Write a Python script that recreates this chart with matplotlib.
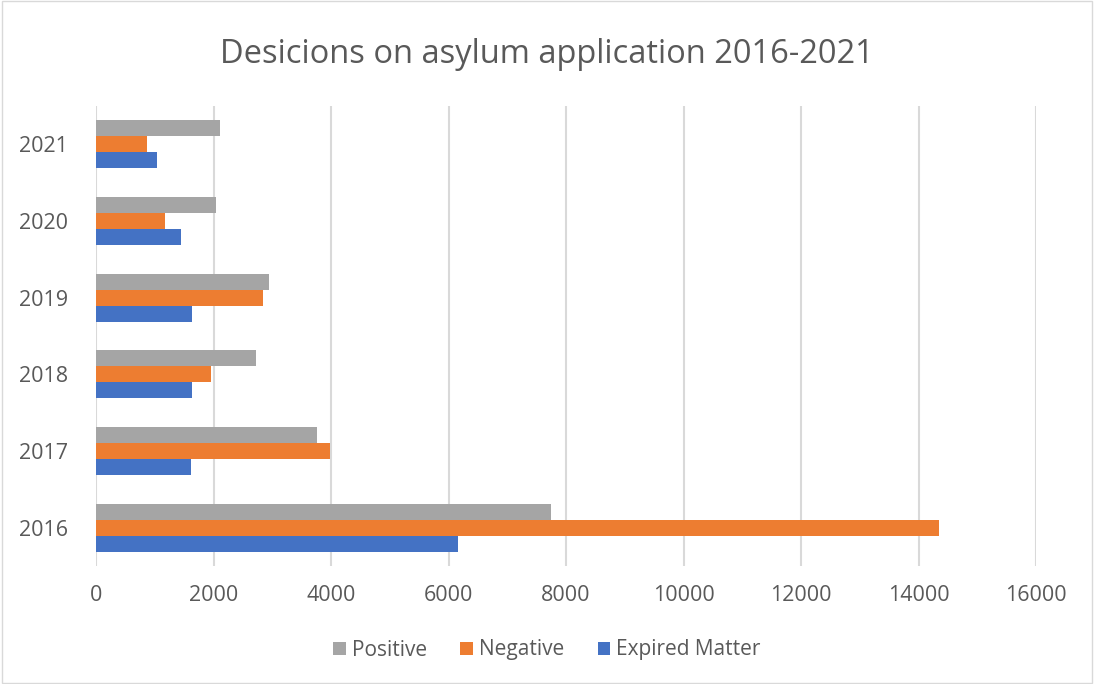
import numpy as np
import matplotlib.pyplot as plt
from matplotlib.patches import Rectangle

plt.rcParams['font.family'] = ['Open Sans', 'DejaVu Sans']

years = ['2016', '2017', '2018', '2019', '2020', '2021']
positive = [7750, 3760, 2720, 2940, 2040, 2110]
negative = [14350, 3980, 1960, 2850, 1175, 875]
expired = [6165, 1620, 1640, 1640, 1440, 1045]

txt = '#595959'
fig = plt.figure(figsize=(10.94, 6.84), dpi=100)
ax = fig.add_axes([96 / 1094, 1 - 566 / 684, 940 / 1094, 460 / 684])

y = np.arange(len(years))
h = 0.21
ax.barh(y - h, expired, height=h, color='#4472C4', label='Expired Matter')
ax.barh(y, negative, height=h, color='#ED7D31', label='Negative')
ax.barh(y + h, positive, height=h, color='#A5A5A5', label='Positive')

ax.set_xlim(0, 16000)
ax.set_ylim(-0.5, len(years) - 0.5)
ax.set_xticks(np.arange(0, 16001, 2000))
ax.set_yticks(y)
ax.set_yticklabels(years)
ax.grid(axis='x', color='#d9d9d9', linewidth=1.5)
ax.set_axisbelow(True)
for s in ax.spines.values():
    s.set_visible(False)
ax.tick_params(length=0, labelsize=15.5, colors=txt)
ax.tick_params(axis='y', pad=20)
ax.tick_params(axis='x', pad=14)

fig.suptitle('Desicions on asylum application 2016-2021', y=0.945, fontsize=23.5, color=txt)

handles, labels = ax.get_legend_handles_labels()
fig.legend(handles[::-1], labels[::-1], loc='center', bbox_to_anchor=(0.5, 1 - 650 / 684),
           ncol=3, frameon=False, fontsize=15, labelcolor=txt,
           handlelength=0.6, handleheight=0.6, handletextpad=0.3, columnspacing=1.6)

fig.patches.append(Rectangle((0.002, 0.002), 0.996, 0.996, transform=fig.transFigure,
                             fill=False, edgecolor='#d9d9d9', linewidth=1))
fig.savefig('out.png')
